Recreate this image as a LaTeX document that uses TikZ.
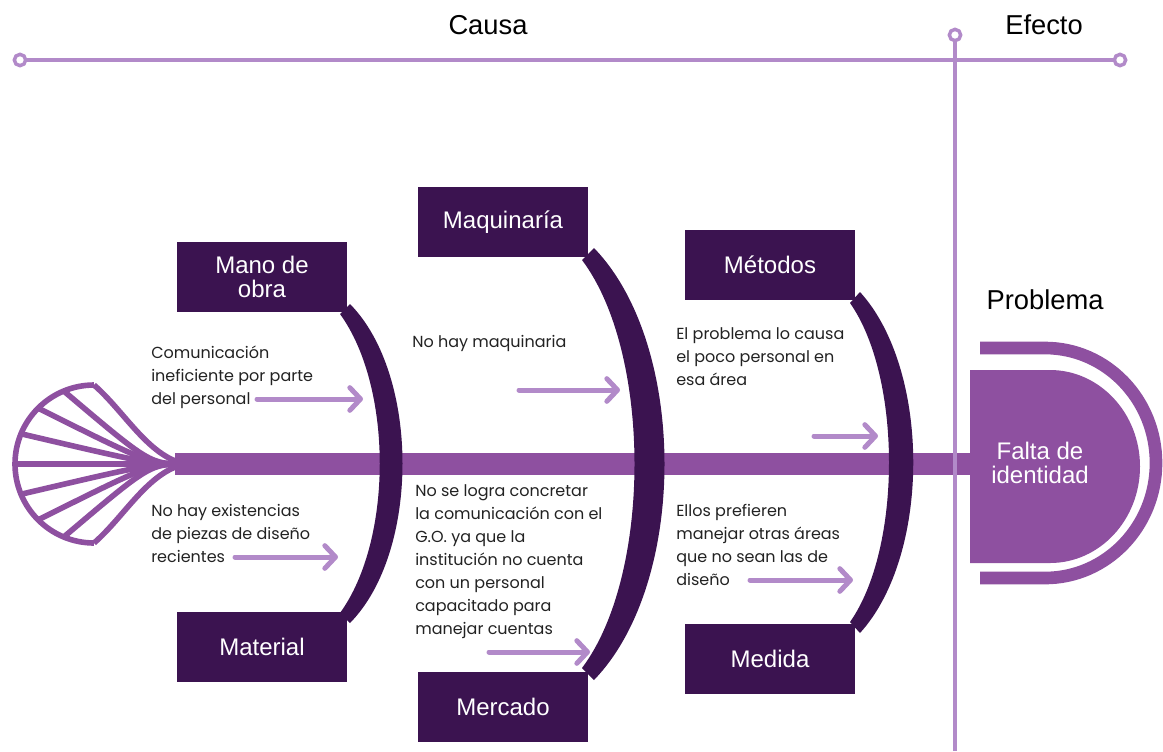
\documentclass[tikz,border=0pt]{standalone}
\usepackage{fontspec}
\setmainfont{Liberation Sans}
\newfontfamily\notefont{Poppins}
\usetikzlibrary{arrows.meta, positioning, calc}

\definecolor{fishbone}{RGB}{142,80,160}
\definecolor{ribdark}{RGB}{59,19,80}
\definecolor{lilac}{RGB}{178,138,201}
\definecolor{notetext}{RGB}{34,34,34}

\tikzset{
  cause/.style={fill=ribdark, text=white, minimum width=127pt, minimum height=53pt,
    inner sep=0pt, align=center, font=\fontsize{18}{17.5}\selectfont},
  note/.style={anchor=base west, align=left, inner sep=0pt, text=notetext,
    font=\notefont\fontsize{12}{17.2}\selectfont},
  title/.style={text=black, inner sep=0pt, font=\fontsize{20.5}{22}\selectfont},
  hint/.style={draw=lilac, line width=3.75pt, line cap=round,
    -{Straight Barb[round, length=8pt, width=17pt]}},
  ring/.style={circle, draw=lilac, fill=white, line width=2.6pt, minimum size=8.5pt, inner sep=0pt},
  axis/.style={draw=lilac, line width=3.6pt},
  tailline/.style={draw=fishbone, line width=4.2pt},
  rib/.style={fill=ribdark}
}

\begin{document}
\begin{tikzpicture}[x=0.75pt, y=-0.75pt]
    \useasboundingbox (0,0) rectangle (1163,751);

    % cause / effect axis
    \node[title] (causa)  at (488,25) {Causa};
    \node[title] (efecto) at (1044,25) {Efecto};
    \node[ring] (cl) at (20,60) {};
    \node[ring] (cr) at (1120,60) {};
    \node[ring] (ct) at (955,35) {};
    \coordinate (vb) at (955,751);
    \draw[axis] (cl) -- (cr);

    % spine and tail
    \draw[draw=fishbone, line width=16.5pt] (175,464) -- (975,464);
    \coordinate (tc) at (94,464);
    \draw[tailline] (94,385) arc[start angle=270, end angle=90, radius=79];
    \draw[tailline] (94,385) .. controls (125,412) and (148,456) .. (185,464);
    \draw[tailline] (94,543) .. controls (125,516) and (148,472) .. (185,464);
    \foreach \a in {112.5,135,...,247.5}
        \draw[tailline] ($(tc)+(\a:79)$) .. controls (150,464) .. (185,464);

    \draw[axis] (ct) -- (vb);

    % notes (placed at the baseline of their last line)
    \node[note] (n1) at (151,404) {Comunicación\\ineficiente por parte\\del personal};
    \node[note] (n2) at (151,562) {No hay existencias\\de piezas de diseño\\recientes};
    \node[note] (n3) at (412,347) {No hay maquinaria};
    \node[note] (n4) at (415,634) {No se logra concretar\\la comunicación con el\\G.O. ya que la\\institución no cuenta\\con un personal\\capacitado para\\manejar cuentas};
    \node[note] (n5) at (676,385) {El problema lo causa\\el poco personal en\\esa área};
    \node[note] (n6) at (676,585) {Ellos prefieren\\manejar otras áreas\\que no sean las de\\diseño};

    \coordinate (a1) at (257,399);  \coordinate (b1) at (363,399);
    \coordinate (a2) at (235,557);  \coordinate (b2) at (338,557);
    \coordinate (a3) at (519,390);  \coordinate (b3) at (620,390);
    \coordinate (a4) at (489,652);  \coordinate (b4) at (590,652);
    \coordinate (a5) at (814,436);  \coordinate (b5) at (878,436);
    \coordinate (a6) at (750,580);  \coordinate (b6) at (853,580);
    \foreach \i in {1,...,6}
        \draw[hint] (a\i) -- (b\i);

    % ribs
    \fill[rib] (350,304) .. controls (420,375) and (420,552) .. (350,623)
        -- (340,613) .. controls (393,540) and (393,387) .. (340,314) -- cycle;
    \fill[rib] (594,248) .. controls (688,345) and (688,583) .. (594,680)
        -- (582,668) .. controls (652,575) and (652,353) .. (582,260) -- cycle;
    \fill[rib] (860,292) .. controls (931,370) and (931,555) .. (860,633)
        -- (850,622) .. controls (902,548) and (902,377) .. (850,303) -- cycle;

    % causes
    \node[cause] (mano)  at (262,277) {Mano de\\obra};
    \node[cause] (mat)   at (262,647) {Material};
    \node[cause] (maq)   at (503,222) {Maquinaría};
    \node[cause] (merc)  at (503,707) {Mercado};
    \node[cause] (metod) at (770,265) {Métodos};
    \node[cause] (medi)  at (770,659) {Medida};

    % problem head
    \node[title] (problema) at (1045,300) {Problema};
    \fill[fishbone] (970,370) -- (1050,370)
        arc[start angle=-90, end angle=90, x radius=90, y radius=96.5] -- (970,563) -- cycle;
    \draw[draw=fishbone, line width=9.5pt] (980,348) -- (1045,348)
        arc[start angle=-90, end angle=90, x radius=111, y radius=115] -- (980,578);
    \node[text=white, align=center, inner sep=0pt, font=\fontsize{18}{18}\selectfont]
        (falta) at (1040,463) {Falta de\\identidad};
\end{tikzpicture}
\end{document}
